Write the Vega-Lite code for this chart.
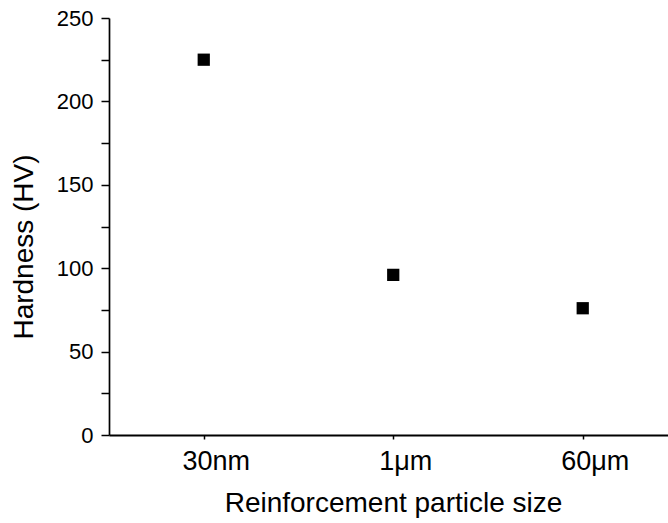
{
  "$schema": "https://vega.github.io/schema/vega-lite/v6.json",
  "autosize": {"type": "none"},
  "padding": {"left": 109, "top": 18, "right": 0, "bottom": 88},
  "width": 559,
  "height": 417,
  "background": "white",
  "config": {
    "view": {"stroke": null},
    "font": "Liberation Sans",
    "axis": {"grid": false, "domainColor": "black", "tickColor": "black", "labelColor": "black", "titleColor": "black", "titleFontWeight": "normal"}
  },
  "data": {"values": [
    {"size": "30nm", "pos": 1, "hardness": 225},
    {"size": "1μm", "pos": 2, "hardness": 96},
    {"size": "60μm", "pos": 3, "hardness": 76}
  ]},
  "mark": {"type": "point", "shape": "square", "filled": true, "color": "black", "opacity": 1, "size": 150},
  "encoding": {
    "x": {"field": "pos", "type": "quantitative",
      "scale": {"domain": [0.5, 3.45], "nice": false, "zero": false},
      "axis": {"values": [1, 2, 3], "labelExpr": "datum.value == 1 ? '30nm' : datum.value == 2 ? '1μm' : '60μm'",
        "tickSize": 4, "tickWidth": 1.5, "domainWidth": 2, "labelFontSize": 27, "labelPadding": 9, "labelOffset": 12,
        "title": "Reinforcement particle size", "titleFontSize": 28, "titleX": 284, "titleY": 76,
        "titleBaseline": "alphabetic", "titleAlign": "center"}},
    "y": {"field": "hardness", "type": "quantitative",
      "scale": {"domain": [0, 250], "nice": false},
      "axis": {"values": [0, 25, 50, 75, 100, 125, 150, 175, 200, 225, 250],
        "labelExpr": "datum.value % 50 === 0 ? datum.label : ''",
        "tickSize": 8, "tickWidth": 1.5, "domainWidth": 1.7,
        "encode": {"ticks": {"update": {"x2": {"signal": "datum.value % 50 === 0 ? -8 : -4"}}}},
        "labelFontSize": 22, "labelPadding": 8,
        "title": "Hardness (HV)", "titleFontSize": 28, "titleX": -77, "titleY": 228.5, "titleAngle": -90,
        "titleBaseline": "alphabetic", "titleAlign": "center"}}
  }
}
